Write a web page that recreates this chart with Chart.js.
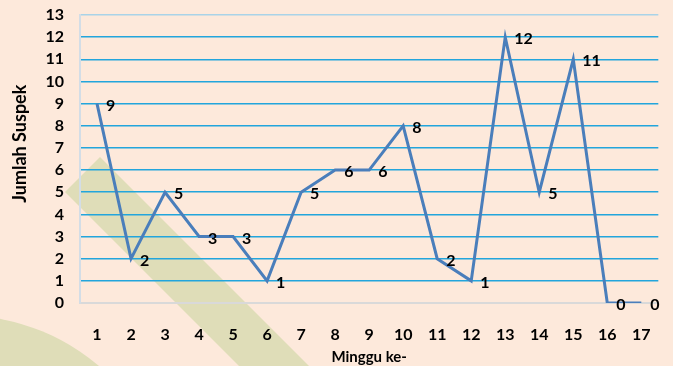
<!DOCTYPE html>
<html>
<head>
<meta charset="utf-8">
<script src="https://cdn.jsdelivr.net/npm/chart.js@4/dist/chart.umd.min.js"></script>
<style>
  html, body { margin: 0; padding: 0; background: #fde9db; }
  #wrap { width: 673px; height: 366px; position: relative; }
</style>
</head>
<body>
<div id="wrap"><canvas id="suspekChart"></canvas></div>
<script>
// chart data
const weeks = ["1", "2", "3", "4", "5", "6", "7", "8", "9", "10", "11", "12", "13", "14", "15", "16", "17"];
const suspectCounts = [9, 2, 5, 3, 3, 1, 5, 6, 6, 8, 2, 1, 12, 5, 11, 0, 0];
const yTicks = [0, 1, 2, 3, 4, 5, 6, 7, 8, 9, 10, 11, 12, 13];

const FONT = "Lato, 'DejaVu Sans', sans-serif";

// --------------------
// background: peach page with green watermark shapes
// --------------------
const backdrop = {
    id: "backdrop",
    beforeDraw(chart) {
        const ctx = chart.ctx;
        ctx.save();
        ctx.fillStyle = "#fde9db";
        ctx.fillRect(0, 0, chart.width, chart.height);
        ctx.fillStyle = "#dfddb8";
        // diagonal band
        ctx.beginPath();
        ctx.moveTo(100, 157);
        ctx.lineTo(309, 366);
        ctx.lineTo(239, 366);
        ctx.lineTo(65, 192);
        ctx.closePath();
        ctx.fill();
        // round shape bottom left
        ctx.beginPath();
        ctx.arc(-40, 530, 215, 0, Math.PI * 2);
        ctx.fill();
        ctx.restore();
    }
};

// --------------------
// value labels next to each point
// --------------------
const valueLabels = {
    id: "valueLabels",
    afterDatasetsDraw(chart) {
        const ctx = chart.ctx;
        const meta = chart.getDatasetMeta(0);
        ctx.save();
        ctx.font = "bold 16px " + FONT;
        ctx.fillStyle = "#000";
        ctx.textAlign = "left";
        ctx.textBaseline = "middle";
        meta.data.forEach((pt, i) => {
            ctx.fillText(String(suspectCounts[i]), pt.x + 9, pt.y + 2);
        });
        ctx.restore();
    }
};

new Chart(document.getElementById("suspekChart"), {
    type: "line",
    data: {
        labels: weeks,
        datasets: [{
            label: "Jumlah Suspek",
            data: suspectCounts,
            borderColor: "#4a7ebb",
            borderWidth: 3,
            pointRadius: 0,
            tension: 0,
            fill: false
        }]
    },
    options: {
        responsive: true,
        maintainAspectRatio: false,
        animation: false,
        layout: { padding: { top: 15, right: 14, left: 0, bottom: 0 } },
        plugins: {
            legend: { display: false },
            tooltip: { enabled: false }
        },
        scales: {
            x: {
                offset: true,
                grid: { display: false, drawTicks: false },
                border: { display: true, color: "#d9d9d9", width: 2 },
                ticks: {
                    color: "#000",
                    padding: 22,
                    maxRotation: 0,
                    autoSkip: false,
                    font: { family: FONT, size: 16, weight: "bold" }
                },
                title: {
                    display: true,
                    text: "Minggu ke-",
                    color: "#000",
                    padding: { top: 0, bottom: 0 },
                    font: { family: FONT, size: 15, weight: "bold" }
                },
                afterFit(scale) { scale.height = 63; }
            },
            y: {
                min: 0,
                max: 13,
                afterBuildTicks(scale) {
                    scale.ticks = yTicks.map(v => ({ value: v }));
                },
                grid: {
                    drawTicks: false,
                    lineWidth: 1.5,
                    color: c => c.tick.value === 13 ? "#a9d3e8" : "#22a5dc"
                },
                border: { display: true, color: "#d3dde6", width: 2 },
                ticks: {
                    color: "#000",
                    padding: 16,
                    autoSkip: false,
                    font: { family: FONT, size: 16, weight: "bold" }
                },
                title: {
                    display: true,
                    // leading spaces nudge the rotated title up a little
                    text: "       Jumlah Suspek",
                    color: "#000",
                    padding: { top: 9, bottom: 0 },
                    font: { family: FONT, size: 18, weight: "bold" }
                },
                afterFit(scale) {
                    scale.width = 80;
                    // tick padding would otherwise push the plot top down
                    scale.paddingTop = 0;
                    scale.paddingBottom = 0;
                }
            }
        }
    },
    plugins: [backdrop, valueLabels]
});
</script>
</body>
</html>
